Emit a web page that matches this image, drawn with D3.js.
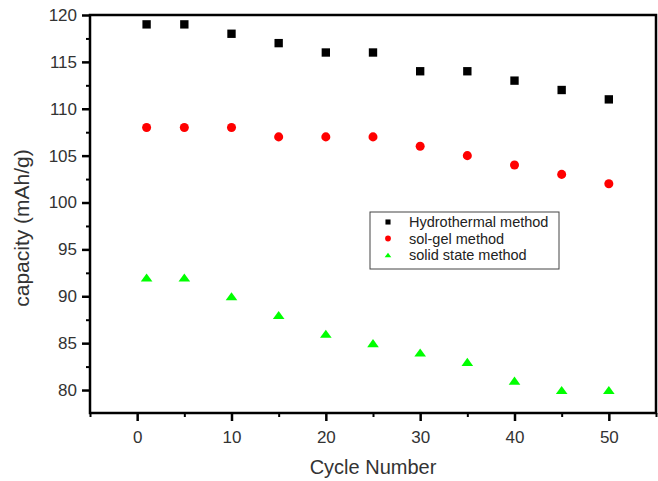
<!DOCTYPE html>
<html>
<head>
<meta charset="utf-8">
<script src="https://cdn.jsdelivr.net/npm/d3@7"></script>
<style>
  body { margin: 0; background: #fff; }
  text { font-family: "Liberation Sans", Arial, sans-serif; }
</style>
</head>
<body>
<div id="chart"></div>
<script>
// data
const cycles = [1, 5, 10, 15, 20, 25, 30, 35, 40, 45, 50];
const hydrothermal = [119, 119, 118, 117, 116, 116, 114, 114, 113, 112, 111];
const solGel = [108, 108, 108, 107, 107, 107, 106, 105, 104, 103, 102];
const solidState = [92, 92, 90, 88, 86, 85, 84, 83, 81, 80, 80];
const seriesNames = ["Hydrothermal method", "sol-gel method", "solid state method"];
const xTicks = [0, 10, 20, 30, 40, 50];
const yTicks = [80, 85, 90, 95, 100, 105, 110, 115, 120];

var margin = {top: 15, right: 2, bottom: 68, left: 90};
var width = 658 - margin.left - margin.right;
var height = 481 - margin.top - margin.bottom;

const svg = d3.select("#chart")
  .append("svg")
    .attr("width", 658)
    .attr("height", 481)
  .append("g")
    .attr("transform", `translate(${margin.left},${margin.top})`);

var x = d3.scaleLinear().domain([-5, 55]).range([0, width]);
var y = d3.scaleLinear().domain([77.55, 120]).range([height, 0]);

// flat triangle like the origin plot uses
const flatTriangle = {
  draw(ctx, size) {
    const w = Math.sqrt(size) * 1.3, h = w * 0.7;
    ctx.moveTo(0, -h / 2);
    ctx.lineTo(w / 2, h / 2);
    ctx.lineTo(-w / 2, h / 2);
    ctx.closePath();
  }
};

// minor ticks
svg.append("g")
  .attr("transform", `translate(0,${height})`)
  .call(d3.axisBottom(x).tickValues([-5, 5, 15, 25, 35, 45, 55]).tickSize(4).tickFormat(""))
  .call(g => g.select(".domain").remove())
  .selectAll("line").attr("stroke-width", 2);
svg.append("g")
  .call(d3.axisLeft(y).tickValues(d3.range(82.5, 120, 5)).tickSize(4).tickFormat(""))
  .call(g => g.select(".domain").remove())
  .selectAll("line").attr("stroke-width", 2);

// major ticks
const xAxis = svg.append("g")
  .attr("transform", `translate(0,${height})`)
  .call(d3.axisBottom(x).tickValues(xTicks).tickSize(8).tickPadding(10));
const yAxis = svg.append("g")
  .call(d3.axisLeft(y).tickValues(yTicks).tickSize(8).tickPadding(5));
[xAxis, yAxis].forEach(a => {
  a.select(".domain").remove();
  a.selectAll("line").attr("stroke-width", 2.5);
  a.selectAll("text").attr("font-size", 17).attr("fill", "#333");
});

// frame
svg.append("rect")
  .attr("x", 0).attr("y", 0)
  .attr("width", width).attr("height", height)
  .attr("fill", "none").attr("stroke", "#000").attr("stroke-width", 2.5);

// axis titles
svg.append("text")
  .attr("x", 283).attr("y", height + 61)
  .attr("text-anchor", "middle").attr("font-size", 20).attr("fill", "#333")
  .text("Cycle Number");
svg.append("text")
  .attr("transform", `translate(${-61},${213})rotate(-90)`)
  .attr("text-anchor", "middle").attr("font-size", 21).attr("fill", "#333")
  .text("capacity (mAh/g)");

const sym = [d3.symbolSquare, d3.symbolCircle, flatTriangle];
const colors = ["#000000", "#ff0000", "#00ff00"];
const sizes = [70, 64, 80];
[hydrothermal, solGel, solidState].forEach((vals, i) => {
  svg.selectAll(`.s${i}`)
    .data(vals)
    .enter()
    .append("path")
      .attr("d", d3.symbol().type(sym[i]).size(sizes[i]))
      .attr("transform", (d, j) => `translate(${x(cycles[j])},${y(d)})`)
      .attr("fill", colors[i]);
});

// legend
const leg = svg.append("g").attr("transform", `translate(${370 - margin.left},${212 - margin.top})`);
leg.append("rect")
  .attr("width", 189).attr("height", 57)
  .attr("fill", "#fff").attr("stroke", "#444").attr("stroke-width", 1);
seriesNames.forEach((name, i) => {
  leg.append("path")
    .attr("d", d3.symbol().type(sym[i]).size(26))
    .attr("transform", `translate(18,${10 + i * 16.5})`)
    .attr("fill", colors[i]);
  leg.append("text")
    .attr("x", 39).attr("y", 10 + i * 16.5).attr("dy", "0.35em")
    .attr("font-size", 14.5).attr("fill", "#222")
    .text(name);
});
</script>
</body>
</html>
